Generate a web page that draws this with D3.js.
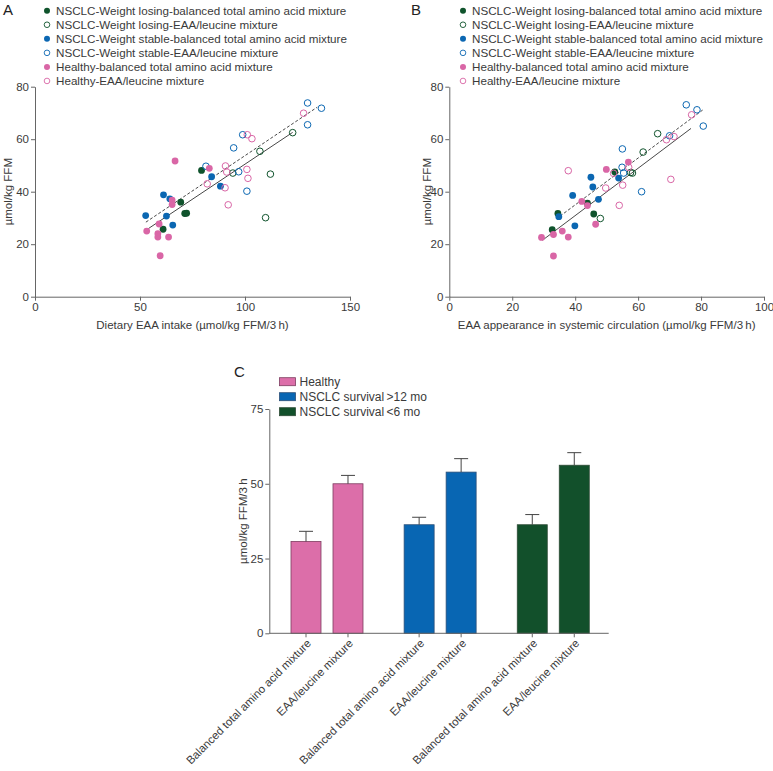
<!DOCTYPE html>
<html><head><meta charset="utf-8">
<script src="https://cdn.jsdelivr.net/npm/d3@7"></script>
<style>
body{margin:0;background:#fff;}
svg{font-family:"Liberation Sans",Arial,Helvetica,sans-serif;}
</style></head>
<body>
<svg id="c" width="773" height="771"></svg>
<script>
// ---------- DATA ----------
const seriesNames = [
  "NSCLC-Weight losing-balanced total amino acid mixture",
  "NSCLC-Weight losing-EAA/leucine mixture",
  "NSCLC-Weight stable-balanced total amino acid mixture",
  "NSCLC-Weight stable-EAA/leucine mixture",
  "Healthy-balanced total amino acid mixture",
  "Healthy-EAA/leucine mixture"
];
const seriesColors = ["#0f532c","#0f532c","#0b67b2","#0b67b2","#d966a6","#d966a6"];
const seriesFilled = [true,false,true,false,true,false];

// Panel A: dietary EAA intake vs µmol/kg FFM
const A_wlBal_x = [79.3, 69.4, 71.3, 72.2, 61.0];
const A_wlBal_y = [48.1, 36.0, 31.7, 31.8, 25.7];
const A_wlEaa_x = [122.7, 107.1, 94.2, 112.1, 109.8];
const A_wlEaa_y = [62.5, 55.4, 47.1, 46.7, 30.1];
const A_wsBal_x = [52.7, 61.2, 64.2, 62.6, 65.6, 84.1, 88.3];
const A_wsBal_y = [30.9, 38.8, 37.3, 30.7, 27.3, 45.7, 42.1];
const A_wsEaa_x = [129.8, 136.4, 129.8, 98.9, 94.6, 81.4, 97.0, 100.9];
const A_wsEaa_y = [73.8, 71.8, 65.5, 61.7, 56.7, 49.7, 47.6, 40.2];
const A_hBal_x = [66.7, 83.0, 65.3, 65.3, 59.1, 53.2, 58.5, 58.5, 63.6, 59.6];
const A_hBal_y = [51.7, 48.9, 36.8, 35.1, 27.7, 25.0, 24.0, 22.7, 22.7, 15.6];
const A_hEaa_x = [127.9, 101.1, 103.3, 90.7, 91.3, 100.9, 101.4, 82.0, 90.5, 92.0];
const A_hEaa_y = [69.9, 61.7, 60.2, 49.8, 47.5, 48.5, 45.1, 43.0, 41.5, 35.0];
const A_solid_x = [53.9, 122.7], A_solid_y = [25.9, 62.6];
const A_dash_x = [52.8, 134.4], A_dash_y = [28.4, 72.2];

// Panel B: EAA appearance vs µmol/kg FFM
const B_wlBal_x = [52.6, 43.9, 34.5, 45.9, 32.7];
const B_wlBal_y = [47.5, 35.6, 31.7, 31.5, 25.5];
const B_wlEaa_x = [66.2, 61.6, 58.2, 57.6, 48.0];
const B_wlEaa_y = [62.1, 55.1, 47.1, 47.3, 29.8];
const B_wsBal_x = [45.0, 45.6, 39.2, 47.4, 39.9, 34.8, 53.8];
const B_wsBal_y = [45.5, 41.8, 38.6, 37.1, 27.0, 30.5, 45.2];
const B_wsEaa_x = [75.3, 78.7, 80.7, 70.0, 55.0, 54.9, 55.4, 61.1];
const B_wsEaa_y = [73.1, 71.2, 65.0, 61.3, 56.3, 49.3, 47.1, 40.0];
const B_hBal_x = [56.9, 49.9, 42.1, 43.9, 46.5, 35.9, 33.1, 29.3, 37.8, 33.1];
const B_hBal_y = [51.3, 48.5, 36.3, 34.7, 27.6, 25.0, 23.7, 22.6, 22.7, 15.5];
const B_hEaa_x = [77.0, 69.0, 71.4, 37.8, 52.2, 49.7, 55.1, 54.0, 70.4, 57.0];
const B_hEaa_y = [69.3, 59.8, 61.0, 48.0, 47.0, 41.4, 42.5, 34.8, 44.7, 49.3];
const B_solid_x = [29.6, 76.8], B_solid_y = [21.5, 64.1];
const B_dash_x = [35.2, 80.5], B_dash_y = [30.7, 71.1];

const A_ticksX = [0, 50, 100, 150];
const B_ticksX = [0, 20, 40, 60, 80, 100];
const AB_ticksY = [0, 20, 40, 60, 80];

// Panel C: bar chart
const C_groups = ["Healthy", "NSCLC survival\u2009>12 mo", "NSCLC survival\u2009<6 mo"];
const C_groupColors = ["#dc6ea9", "#0866b3", "#12502b"];
const C_groupStroke = ["#7d3d60", "#2b4f78", "#2d4b36"];
const C_mixtures = ["Balanced total amino acid mixture", "EAA/leucine mixture"];
const C_means = [[30.7, 50.0], [36.3, 53.9], [36.3, 56.2]];
const C_errTop = [[34.1, 52.8], [38.8, 58.4], [39.7, 60.4]];
const C_ticksY = [0, 25, 50, 75];

// ---------- DRAW ----------
const svg = d3.select("#c");
const axisCol = "#666", textCol = "#3a3a3a", fs = 11.5;

function styleAxis(g){
  g.selectAll("path,line").attr("stroke", axisCol).attr("stroke-width", 1);
  g.selectAll("text").attr("fill", textCol).style("font-size", fs + "px");
  g.select(".domain").attr("fill","none");
}

function scatterPanel(opt){
  const x = d3.scaleLinear().domain(opt.xdom).range(opt.xr);
  const y = d3.scaleLinear().domain([0,80]).range([296.7, 86.7]);
  const g = svg.append("g");
  const ya = g.append("g").attr("transform", `translate(${opt.xr[0]},0)`)
    .call(d3.axisLeft(y).tickValues(AB_ticksY).tickSize(4).tickSizeOuter(0).tickPadding(2));
  styleAxis(ya);
  const xa = g.append("g").attr("transform", `translate(0,${y(0)})`)
    .call(d3.axisBottom(x).tickValues(opt.xticks).tickSize(4).tickSizeOuter(0).tickPadding(2).tickFormat(d3.format("d")));
  styleAxis(xa);
  // titles
  g.append("text").attr("x", (opt.xr[0]+opt.xr[1])/2).attr("y", 329)
    .attr("text-anchor","middle").attr("fill",textCol).style("font-size",fs+"px").text(opt.xtitle);
  g.append("text").attr("transform", `translate(${opt.ylabX},${(y(0)+y(80))/2}) rotate(-90)`)
    .attr("text-anchor","middle").attr("fill",textCol).style("font-size",fs+"px").text("\u00b5mol/kg FFM");
  g.append("text").attr("x", opt.letterX).attr("y", 15).attr("fill","#222").style("font-size","15px").text(opt.letter);
  // legend
  seriesNames.forEach((s,i)=>{
    const yy = 10.7 + i*14.05;
    g.append("circle").attr("cx", opt.legX).attr("cy", yy).attr("r", seriesFilled[i]?3:2.8)
      .attr("fill", seriesFilled[i]?seriesColors[i]:"none")
      .attr("stroke", seriesColors[i]).attr("stroke-width", seriesFilled[i]?0:0.9);
    g.append("text").attr("x", opt.legX+9).attr("y", yy).attr("dy","0.36em")
      .attr("fill", textCol).style("font-size", "11.65px").text(s);
  });
  // regression lines
  const line = d3.line().x(d=>x(d[0])).y(d=>y(d[1]));
  g.append("path").datum(d3.zip(opt.dash[0], opt.dash[1])).attr("d", line)
    .attr("fill","none").attr("stroke","#333").attr("stroke-width",0.9).attr("stroke-dasharray","3,2");
  g.append("path").datum(d3.zip(opt.solid[0], opt.solid[1])).attr("d", line)
    .attr("fill","none").attr("stroke","#333").attr("stroke-width",0.9);
  // points
  opt.series.forEach((s,i)=>{
    g.append("g").selectAll("circle").data(d3.zip(s[0], s[1])).join("circle")
      .attr("cx", d=>x(d[0])).attr("cy", d=>y(d[1]))
      .attr("r", seriesFilled[i]?3.4:3.3)
      .attr("fill", seriesFilled[i]?seriesColors[i]:"none")
      .attr("stroke", seriesColors[i]).attr("stroke-width", seriesFilled[i]?0:1);
  });
}

scatterPanel({
  xdom:[0,150], xr:[35,350], xticks:A_ticksX, letter:"A", letterX:3, legX:47, ylabX:12,
  xtitle:"Dietary EAA intake (\u00b5mol/kg FFM/3\u2009h)",
  solid:[A_solid_x, A_solid_y], dash:[A_dash_x, A_dash_y],
  series:[[A_wlBal_x,A_wlBal_y],[A_wlEaa_x,A_wlEaa_y],[A_wsBal_x,A_wsBal_y],[A_wsEaa_x,A_wsEaa_y],[A_hBal_x,A_hBal_y],[A_hEaa_x,A_hEaa_y]]
});
scatterPanel({
  xdom:[0,100], xr:[449.3,764], xticks:B_ticksX, letter:"B", letterX:411, legX:463, ylabX:431,
  xtitle:"EAA appearance in systemic circulation (\u00b5mol/kg FFM/3\u2009h)",
  solid:[B_solid_x, B_solid_y], dash:[B_dash_x, B_dash_y],
  series:[[B_wlBal_x,B_wlBal_y],[B_wlEaa_x,B_wlEaa_y],[B_wsBal_x,B_wsBal_y],[B_wsEaa_x,B_wsEaa_y],[B_hBal_x,B_hBal_y],[B_hEaa_x,B_hEaa_y]]
});

// Panel C
(function(){
  const g = svg.append("g");
  const y = d3.scaleLinear().domain([0,75]).range([633.3, 409]);
  const x0 = d3.scaleBand().domain(C_groups).range([269.3, 608.7]);
  const x1 = d3.scaleBand().domain(C_mixtures).range([21.7, 93.7]).paddingInner(0.2857);
  const ya = g.append("g").attr("transform","translate(269.3,0)")
    .call(d3.axisLeft(y).tickValues(C_ticksY).tickSize(4).tickSizeOuter(0).tickPadding(2));
  styleAxis(ya);
  // bars
  C_groups.forEach((grp,gi)=>{
    const gg = g.append("g").attr("transform",`translate(${x0(grp)},0)`);
    C_mixtures.forEach((m,mi)=>{
      const bx = x1(m), bw = x1.bandwidth();
      gg.append("rect").attr("x", bx).attr("y", y(C_means[gi][mi]))
        .attr("width", bw).attr("height", y(0)-y(C_means[gi][mi]))
        .attr("fill", C_groupColors[gi]).attr("stroke", C_groupStroke[gi]).attr("stroke-width",0.8);
      const cx = bx + bw/2;
      gg.append("line").attr("x1",cx).attr("x2",cx).attr("y1",y(C_means[gi][mi])).attr("y2",y(C_errTop[gi][mi]))
        .attr("stroke","#444").attr("stroke-width",1);
      gg.append("line").attr("x1",cx-7).attr("x2",cx+7).attr("y1",y(C_errTop[gi][mi])).attr("y2",y(C_errTop[gi][mi]))
        .attr("stroke","#444").attr("stroke-width",1);
      // tick + label
      gg.append("line").attr("x1",cx).attr("x2",cx).attr("y1",y(0)).attr("y2",y(0)+4).attr("stroke",axisCol);
      gg.append("text").attr("transform",`translate(${cx+3},${y(0)+8}) rotate(-45)`)
        .attr("text-anchor","end").attr("dy","0.35em").attr("fill",textCol).style("font-size","11.4px").text(m);
    });
  });
  g.append("line").attr("x1",269.3).attr("x2",608.7).attr("y1",y(0)).attr("y2",y(0)).attr("stroke",axisCol);
  g.append("text").attr("transform",`translate(247,${(y(0)+y(75))/2}) rotate(-90)`)
    .attr("text-anchor","middle").attr("fill",textCol).style("font-size",fs+"px").text("\u00b5mol/kg FFM/3\u2009h");
  g.append("text").attr("x",234).attr("y",377).attr("fill","#222").style("font-size","15px").text("C");
  C_groups.forEach((grp,i)=>{
    const yy = 381.7 + i*15;
    g.append("rect").attr("x",279.5).attr("y",yy-4).attr("width",16).attr("height",8)
      .attr("fill",C_groupColors[i]).attr("stroke",C_groupStroke[i]).attr("stroke-width",0.8);
    g.append("text").attr("x",299.5).attr("y",yy).attr("dy","0.36em").attr("fill",textCol)
      .style("font-size","12px").text(grp);
  });
})();
</script>
</body></html>
